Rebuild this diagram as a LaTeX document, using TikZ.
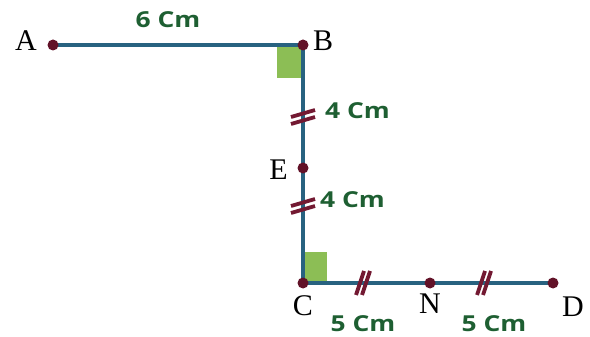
\documentclass[tikz,border=0pt]{standalone}
\usepackage{fontspec}
\setmainfont{Liberation Serif}
\newfontfamily\lenfont[FakeStretch=1.2]{Open Sans}
\usepackage{tikz}
\usetikzlibrary{positioning,calc}
\definecolor{SegBlue}{RGB}{40,98,128}
\definecolor{DotRed}{RGB}{98,18,40}
\definecolor{LenGreen}{RGB}{30,95,50}
\definecolor{RightGreen}{RGB}{140,190,85}
\definecolor{TickRed}{RGB}{115,25,50}
\tikzset{
  point/.style={circle,fill=DotRed,inner sep=0pt,minimum size=11pt},
  segment/.style={SegBlue,line width=4pt},
  rightmark/.style={fill=RightGreen,draw=none},
  tickmark/.style={TickRed,line width=3.8pt},
  length/.style={text=LenGreen,inner sep=1pt,
    font=\lenfont\bfseries\fontsize{22}{22}\selectfont},
  letter/.style={inner sep=1pt,font=\fontsize{30}{30}\selectfont}
}

\begin{document}
\begin{tikzpicture}[x=1pt,y=-1pt]
  \useasboundingbox (0,0) rectangle (590,337);
  % corner points
  \coordinate (A) at (53,45);
  \coordinate (B) at (303,45);
  \coordinate (E) at (303,168);
  \coordinate (C) at (303,283);
  \coordinate (N) at (430,283);
  \coordinate (D) at (553,283);
  % right angles
  \fill[rightmark] (B) rectangle ++(-26,33);
  \fill[rightmark] (C) rectangle ++(24,-31);
  % segments
  \draw[segment] (A) -- (B) -- (C) -- (D);
  % equal marks
  \coordinate (tBE) at (303,117);
  \coordinate (tEC) at (303,206);
  \coordinate (tCN) at (363,283);
  \coordinate (tND) at (484,283);
  \foreach \t in {tBE,tEC}
    \foreach \d in {-3.5,3.5}
      \draw[tickmark] ($(\t)+(-12,3.5+\d)$) -- ++(24,-7);
  \foreach \t in {tCN,tND}
    \foreach \d in {-3,3}
      \draw[tickmark] ($(\t)+(-4+\d,12)$) -- ++(8,-24);
  % dots
  \foreach \p in {A,B,E,C,N,D}
    \node[point] (dot\p) at (\p) {};
  % point names
  \node[letter,left=15pt of A,yshift=4pt] (labA) {A};
  \node[letter,right=9pt of B,yshift=4pt] (labB) {B};
  \node[letter,left=14pt of E,yshift=-2pt] (labE) {E};
  \node[letter,below=11pt of C] (labC) {C};
  \node[letter,below=10pt of N] (labN) {N};
  \node[letter,below right=13pt and 8pt of D] (labD) {D};
  % lengths
  \node[length,above=16pt of {$(A)!0.46!(B)$}] (lenAB) {6 Cm};
  \node[length,right=21pt of tBE,yshift=6pt] (lenBE) {4 Cm};
  \node[length,right=16pt of tEC,yshift=6pt] (lenEC) {4 Cm};
  \node[length,below=31pt of tCN] (lenCN) {5 Cm};
  \node[length,below=31pt of tND,xshift=10pt] (lenND) {5 Cm};
\end{tikzpicture}
\end{document}
